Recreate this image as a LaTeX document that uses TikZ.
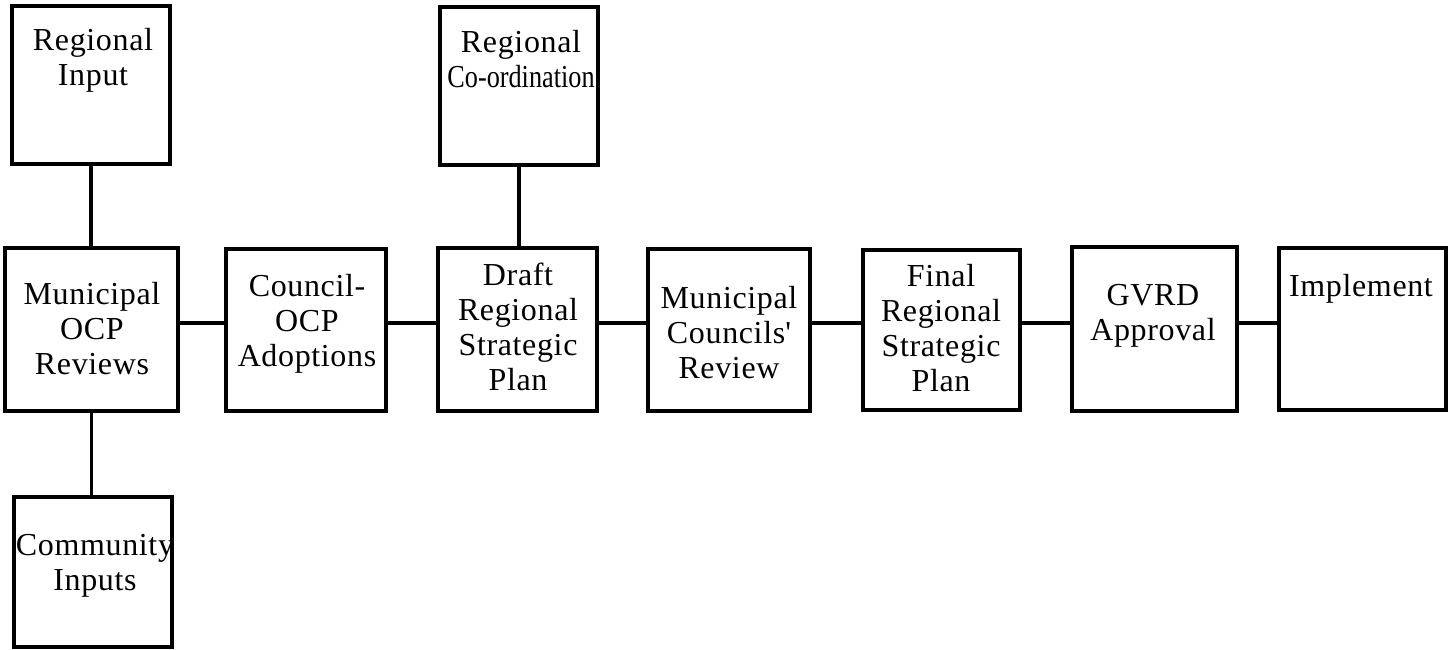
\documentclass[tikz,border=0pt]{standalone}
\usepackage{fontspec}
\setmainfont{Liberation Serif}[LetterSpace=2]
\newfontfamily\tightfont{Liberation Serif}
\usetikzlibrary{calc}
\begin{document}
\begin{tikzpicture}[x=0.5pt,y=-0.5pt,
  box/.style={draw, line width=1.6pt, inner sep=0pt},
  lbl/.style={align=center, inner sep=0pt, font=\fontsize{16}{17.5}\selectfont},
  link/.style={line width=1.6pt}]
\useasboundingbox (0,0) rectangle (1451,649);
% boxes
\node[box, minimum width=79pt, minimum height=79pt] (ri) at (91,85) {};
\node[box, minimum width=86.5pt, minimum height=81.5pt] (mo) at (91.5,329.5) {};
\node[box, minimum width=79pt, minimum height=75pt] (ci) at (93,572) {};
\node[box, minimum width=80pt, minimum height=81pt] (co) at (306,330) {};
\node[box, minimum width=79pt, minimum height=79pt] (rc) at (519,86) {};
\node[box, minimum width=79.5pt, minimum height=81.5pt] (dr) at (517.5,329.5) {};
\node[box, minimum width=81pt, minimum height=81pt] (mc) at (729,330) {};
\node[box, minimum width=78.5pt, minimum height=80pt] (fi) at (941.5,330) {};
\node[box, minimum width=82.5pt, minimum height=82pt] (gv) at (1154.5,329) {};
\node[box, minimum width=83.5pt, minimum height=81pt] (im) at (1362.5,329) {};
% texts
\node[lbl] (tri) at (93,60) {Regional\\Input};
\node[lbl] (tmo) at (92,329) {Municipal\\OCP\\Reviews};
\node[lbl] (tci) at (95,566) {Community\\Inputs};
\node[lbl] (tco) at (307,324) {Council-\\OCP\\Adoptions};
\node[lbl] (trc) at (521,59) {Regional\\{\tightfont\scalebox{0.82}[1]{Co-ordination}}};
\node[lbl] (tdr) at (518,327) {Draft\\Regional\\Strategic\\Plan};
\node[lbl] (tmc) at (729,333) {Municipal\\Councils\textquotesingle\\Review};
\node[lbl] (tfi) at (941,328) {Final\\Regional\\Strategic\\Plan};
\node[lbl] (tgv) at (1153,316) {GVRD\\Approval};
\node[lbl] (tim) at (1361,289) {Implement};
% connectors
\coordinate (hy) at (0,323);
\draw[link] (ri.south) -- (ri.south |- mo.north);
\draw[link] (mo.south) -- (mo.south |- ci.north);
\draw[link] (rc.south) -- (rc.south |- dr.north);
\draw[link] (mo.east |- hy) -- (co.west |- hy);
\draw[link] (co.east |- hy) -- (dr.west |- hy);
\draw[link] (dr.east |- hy) -- (mc.west |- hy);
\draw[link] (mc.east |- hy) -- (fi.west |- hy);
\draw[link] (fi.east |- hy) -- (gv.west |- hy);
\draw[link] (gv.east |- hy) -- (im.west |- hy);
\end{tikzpicture}
\end{document}
